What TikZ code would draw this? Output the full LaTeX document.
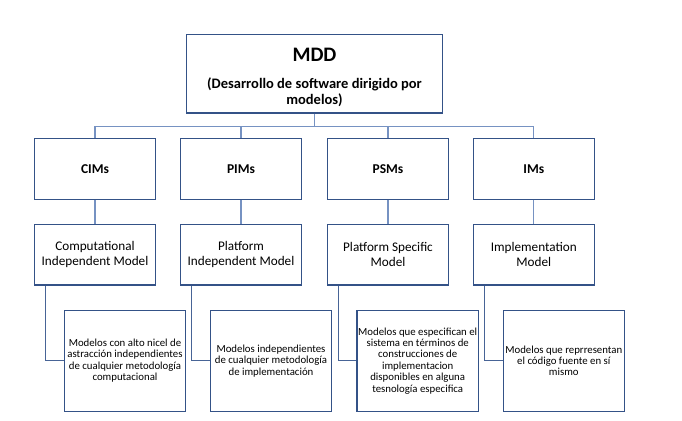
\documentclass[tikz,border=0pt]{standalone}
\usepackage{fontspec}
\setmainfont{Carlito}
\definecolor{bordercol}{RGB}{52,82,135}
\definecolor{treecol}{RGB}{118,146,194}
\definecolor{elbowcol}{RGB}{72,100,150}
\tikzset{
  box/.style={draw=bordercol, line width=1.1pt, inner sep=0pt, align=center, text=black},
  topbox/.style={box, minimum width=256.4pt, minimum height=78.7pt, font=\fontsize{14.5}{15.7}\selectfont\bfseries},
  catbox/.style={box, minimum width=121.4pt, minimum height=61pt, font=\fontsize{13.5}{15}\selectfont\bfseries},
  namebox/.style={box, minimum width=121.4pt, minimum height=60.7pt, font=\fontsize{13.2}{15}\selectfont},
  descbox/.style={box, minimum width=121.4pt, minimum height=101pt, font=\fontsize{10.8}{11.45}\selectfont},
  tree/.style={draw=treecol, line width=1.1pt},
  elbow/.style={draw=elbowcol, line width=1.2pt}
}
\begin{document}
\begin{tikzpicture}[x=1pt,y=-1pt]
\useasboundingbox[fill=white] (0,0) rectangle (682,420);
\node[topbox] (top) at (314.5,73.65) {{\fontsize{20.6}{22}\selectfont\rule{0pt}{20.5pt}MDD}\\[11pt](Desarrollo de software dirigido por\\modelos)};
\node[catbox] (c1) at (95,168.8) {CIMs};
\node[catbox] (c2) at (241,168.8) {PIMs};
\node[catbox] (c3) at (388,168.8) {PSMs};
\node[catbox] (c4) at (533.8,168.8) {IMs};
\node[namebox] (m1) at (95,254.65) {Computational\\Independent Model};
\node[namebox] (m2) at (241,254.65) {Platform\\Independent Model};
\node[namebox] (m3) at (388,254.65) {Platform Specific\\Model};
\node[namebox] (m4) at (533.8,254.65) {Implementation\\Model};
\node[descbox] (d1) at (125,360.8) {Modelos con alto nicel de\\astracción independientes\\de cualquier metodología\\computacional};
\node[descbox] (d2) at (271,360.8) {Modelos independientes\\de cualquier metodología\\de implementación};
\node[descbox] (d3) at (417.7,360.8) {Modelos que especifican el\\sistema en términos de\\construcciones de\\implementacion\\disponibles en alguna\\tesnología especifica};
\node[descbox] (d4) at (563.8,360.8) {Modelos que reprresentan\\el código fuente en sí\\mismo};
\coordinate (bus) at (314.5,126.7);
\draw[tree] (top.south) -- (bus);
\draw[tree] (c1.north) -- (c1.north |- bus) -- (c4.north |- bus) -- (c4.north);
\draw[tree] (c2.north) -- (c2.north |- bus);
\draw[tree] (c3.north) -- (c3.north |- bus);
\foreach \i in {1,2,3,4}{
  \draw[tree] (c\i.south) -- (m\i.north);
  \draw[elbow] ([xshift=12pt]m\i.south west) |- (d\i.west);
}
\end{tikzpicture}
\end{document}
